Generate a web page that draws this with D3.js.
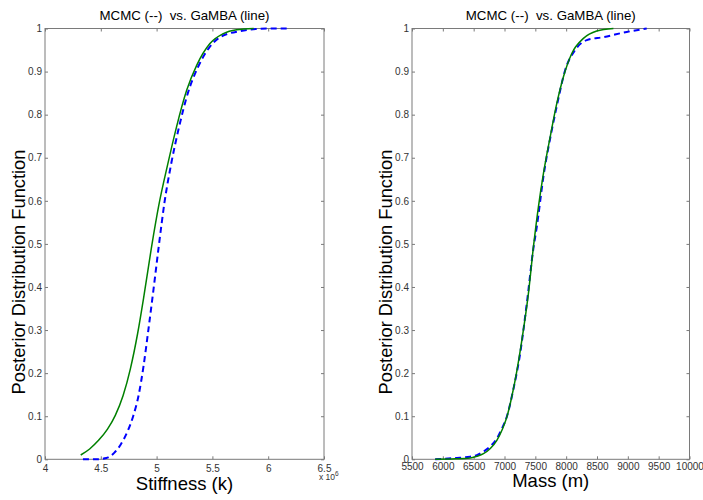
<!DOCTYPE html>
<html>
<head>
<meta charset="utf-8">
<script src="https://cdn.jsdelivr.net/npm/d3@7"></script>
<style>
  body { margin: 0; background: #fff; }
  svg { display: block; font-family: "Liberation Sans", Arial, sans-serif; }
  .tick text { fill: #333; font-size: 10px; }
  .tick line { stroke: #7a7a7a; }
</style>
</head>
<body>
<svg id="chart" width="703" height="500"></svg>
<script>
// Stiffness panel (x in units of 1e6)
const stiffGambaX = [4.32, 4.40, 4.48, 4.56, 4.63, 4.70, 4.765, 4.83, 4.89, 4.956, 5.02, 5.10, 5.177, 5.27, 5.36, 5.478, 5.598, 5.717, 5.87];
const stiffGambaY = [0.01, 0.024, 0.044, 0.07, 0.102, 0.148, 0.21, 0.292, 0.385, 0.495, 0.59, 0.685, 0.77, 0.857, 0.915, 0.965, 0.988, 0.997, 1.0];
const stiffMcmcX = [4.34, 4.45, 4.55, 4.62, 4.68, 4.74, 4.79, 4.84, 4.885, 4.926, 4.975, 5.022, 5.07, 5.13, 5.20, 5.28, 5.37, 5.47, 5.57, 5.75, 5.99, 6.17];
const stiffMcmcY = [0, 0, 0.003, 0.015, 0.035, 0.065, 0.1, 0.15, 0.22, 0.3, 0.4, 0.5, 0.595, 0.685, 0.77, 0.85, 0.91, 0.955, 0.98, 0.994, 1.0, 1.0];

// Mass panel
const massGambaX = [5876, 6200, 6443, 6550, 6659, 6770, 6876, 6960, 7038, 7110, 7172, 7281, 7388, 7469, 7550, 7631, 7740, 7848, 7956, 8091, 8280, 8496, 8766];
const massGambaY = [0, 0.001, 0.003, 0.007, 0.013, 0.025, 0.044, 0.068, 0.098, 0.14, 0.183, 0.276, 0.385, 0.493, 0.586, 0.663, 0.748, 0.826, 0.888, 0.942, 0.977, 0.994, 1.0];
const massMcmcX = [5876, 6200, 6443, 6560, 6660, 6770, 6876, 6960, 7040, 7140, 7253, 7361, 7469, 7523, 7631, 7767, 7848, 7983, 8145, 8334, 8604, 8982, 9306];
const massMcmcY = [0, 0.003, 0.006, 0.01, 0.018, 0.03, 0.048, 0.072, 0.1, 0.16, 0.245, 0.361, 0.49, 0.539, 0.656, 0.764, 0.82, 0.903, 0.95, 0.973, 0.98, 0.992, 1.0];

// tick values
const stiffTicks = [4, 4.5, 5, 5.5, 6, 6.5];
const massTicks = [5500, 6000, 6500, 7000, 7500, 8000, 8500, 9000, 9500, 10000];
const yTicks = [0, 0.1, 0.2, 0.3, 0.4, 0.5, 0.6, 0.7, 0.8, 0.9, 1];

const titleText = "MCMC (--)\u00a0 vs. GaMBA (line)";
const yLabel = "Posterior Distribution Function";

const svg = d3.select("#chart");

const zip = (xs, ys) => xs.map((x, i) => ({ x: x, y: ys[i] }));

const panels = [
  { left: 45, right: 324, xDomain: [4, 6.5], ticks: stiffTicks, fmt: d3.format("~g"),
    xLabel: "Stiffness (k)", xLabelY: 490, ylabX: 25, tickY: 6,
    gamba: zip(stiffGambaX, stiffGambaY), mcmc: zip(stiffMcmcX, stiffMcmcY), exponent: true },
  { left: 412, right: 689.5, xDomain: [5500, 10000], ticks: massTicks, fmt: d3.format("d"),
    xLabel: "Mass (m)", xLabelY: 487, ylabX: 391.5, tickY: 4,
    gamba: zip(massGambaX, massGambaY), mcmc: zip(massMcmcX, massMcmcY), exponent: false }
];

const plotTop = 28.5, plotBottom = 459.3;

panels.forEach(p => {
  const x = d3.scaleLinear().domain(p.xDomain).range([p.left, p.right]);
  const y = d3.scaleLinear().domain([0, 1]).range([plotBottom, plotTop]);

  const g = svg.append("g");

  // box
  g.append("rect")
    .attr("x", p.left).attr("y", plotTop)
    .attr("width", p.right - p.left).attr("height", plotBottom - plotTop)
    .attr("fill", "none").attr("stroke", "#7a7a7a").attr("stroke-width", 1);

  // bottom axis with labels, ticks pointing inward
  const xb = g.append("g").attr("transform", `translate(0,${plotBottom})`)
    .call(d3.axisBottom(x).tickValues(p.ticks).tickFormat(p.fmt).tickSize(-3).tickPadding(p.tickY));
  xb.select(".domain").remove();

  const xt = g.append("g").attr("transform", `translate(0,${plotTop})`)
    .call(d3.axisTop(x).tickValues(p.ticks).tickFormat("").tickSize(-3));
  xt.select(".domain").remove();

  const yl = g.append("g").attr("transform", `translate(${p.left},0)`)
    .call(d3.axisLeft(y).tickValues(yTicks).tickFormat(d3.format("~g")).tickSize(-3).tickPadding(3));
  yl.select(".domain").remove();

  const yr = g.append("g").attr("transform", `translate(${p.right},0)`)
    .call(d3.axisRight(y).tickValues(yTicks).tickFormat("").tickSize(-3));
  yr.select(".domain").remove();

  // curves
  const line = d3.line().x(d => x(d.x)).y(d => y(d.y)).curve(d3.curveMonotoneX);

  g.append("path").datum(p.mcmc)
    .attr("d", line).attr("fill", "none")
    .attr("stroke", "#0000ff").attr("stroke-width", 2)
    .attr("stroke-dasharray", "6,4");

  g.append("path").datum(p.gamba)
    .attr("d", line).attr("fill", "none")
    .attr("stroke", "#008000").attr("stroke-width", 1.5);

  // title
  g.append("text")
    .attr("x", (p.left + p.right) / 2).attr("y", 19.5)
    .attr("text-anchor", "middle").attr("font-size", 13.3).attr("fill", "#000")
    .text(titleText);

  // x label
  g.append("text")
    .attr("x", (p.left + p.right) / 2).attr("y", p.xLabelY)
    .attr("text-anchor", "middle").attr("font-size", 18.5).attr("fill", "#000")
    .text(p.xLabel);

  // y label
  g.append("text")
    .attr("transform", `translate(${p.ylabX},272) rotate(-90)`)
    .attr("text-anchor", "middle").attr("font-size", 18.3).attr("fill", "#000")
    .text(yLabel);

  if (p.exponent) {
    const e = g.append("text")
      .attr("x", 319).attr("y", 479.5)
      .attr("font-size", 8.5).attr("fill", "#333");
    e.append("tspan").text("x 10");
    e.append("tspan").attr("dy", -4).attr("font-size", 6.5).text("6");
  }
});
</script>
</body>
</html>
